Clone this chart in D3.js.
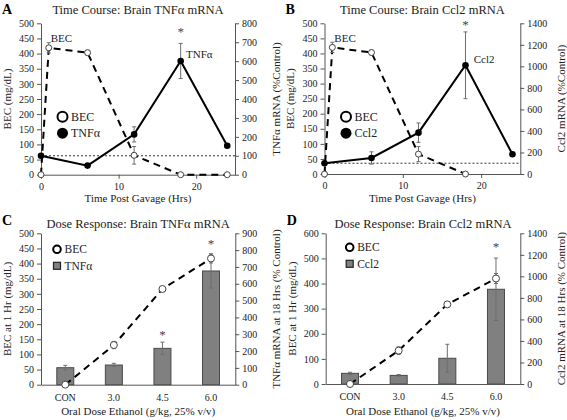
<!DOCTYPE html>
<html><head><meta charset="utf-8">
<script src="https://cdn.jsdelivr.net/npm/d3@7"></script>
<style>
html,body{margin:0;padding:0;background:#fff;}
svg{display:block;}
svg text{font-family:"Liberation Serif","Times New Roman",serif !important;}
</style></head><body>
<svg id="c" width="567" height="420"></svg>
<script>
// ---- data ----
const timeHrs = [0, 1, 6, 12, 18, 24];
const becTimeA = [0, 419, 403, 64, 0, 0];
const becTimeAErr = [0, 17, 8, 29, 0, 0];
const tnfTimeHrs = [0, 6, 12, 18, 24];
const tnfTime = [100, 48, 213, 601, 153];
const tnfTimeErr = [0, 0, 40, 93, 0];

const becTimeHrsB = [0, 1, 6, 12, 18];
const becTimeB = [0, 420, 403, 66, 0];
const becTimeBErr = [0, 17, 8, 25, 0];
const ccl2TimeHrs = [0, 6, 12, 18, 24];
const ccl2Time = [99, 149, 384, 1010, 183];
const ccl2TimeErr = [0, 57, 90, 310, 0];

const doses = ["CON", "3.0", "4.5", "6.0"];
const becDoseC = [0, 131, 316, 417];
const becDoseCErr = [0, 12, 5, 15];
const tnfDose = [101, 117, 216, 676];
const tnfDoseErr = [14, 10, 37, 101];

const becDoseD = [0, 133, 317, 420];
const becDoseDErr = [0, 15, 6, 20];
const ccl2Dose = [99, 80, 239, 880];
const ccl2DoseErr = [10, 8, 130, 290];

const ticksBEC500 = [0,50,100,150,200,250,300,350,400,450,500];
const ticksBEC600 = [0,100,200,300,400,500,600];
const ticksTnfTime = [0,100,200,300,400,500,600,700,800];
const ticksCcl2 = [0,200,400,600,800,1000,1200,1400];
const ticksTnfDose = [0,100,200,300,400,500,600,700,800,900];
const ticksTime = [0,10,20];

const svg = d3.select("#c");
const BLK = "#000", GRAY = "#6e6e6e", TXT = "#222";
const FONT = "Liberation Serif, Times New Roman, serif";

function axes(g, L, R, yl, yr, tl, tr) {
  g.append("g").attr("transform", `translate(${L},0)`)
    .call(d3.axisLeft(yl).tickValues(tl).tickSize(4).tickSizeOuter(0).tickPadding(3).tickFormat(d3.format("d")));
  g.append("g").attr("transform", `translate(${R},0)`)
    .call(d3.axisRight(yr).tickValues(tr).tickSize(4).tickSizeOuter(0).tickPadding(3).tickFormat(d3.format("d")));
}
function txt(g, x, y, s, o = {}) {
  const t = g.append("text").attr("x", x).attr("y", y).text(s)
    .attr("font-size", o.size || 11).attr("fill", o.fill || TXT).attr("font-family", FONT)
    .attr("text-anchor", o.anchor || "start");
  if (o.weight) t.attr("font-weight", o.weight);
  if (o.rot) t.attr("transform", `rotate(-90,${x},${y})`);
  return t;
}
function errBars(g, xs, ys, es, x, y) {
  xs.forEach((xv, i) => {
    if (!es[i]) return;
    const cx = x(xv);
    g.append("line").attr("x1", cx).attr("x2", cx).attr("y1", y(ys[i] - es[i])).attr("y2", y(ys[i] + es[i]))
      .attr("stroke", GRAY).attr("stroke-width", 1);
    [ys[i] - es[i], ys[i] + es[i]].forEach(v => g.append("line").attr("x1", cx - 2).attr("x2", cx + 2)
      .attr("y1", y(v)).attr("y2", y(v)).attr("stroke", GRAY).attr("stroke-width", 1));
  });
}

function timePanel(o) {
  const g = svg.append("g");
  const x = d3.scaleLinear().domain([0, 25]).range([o.L, o.R]);
  const yl = d3.scaleLinear().domain([0, 500]).range([o.B, o.T]);
  const yr = d3.scaleLinear().domain([0, o.rmax]).range([o.B, o.T]);
  g.append("g").attr("transform", `translate(0,${o.B})`)
    .call(d3.axisBottom(x).tickValues(ticksTime).tickSize(4).tickSizeOuter(0).tickPadding(4).tickFormat(d3.format("d")));
  axes(g, o.L, o.R, yl, yr, ticksBEC500, o.rticks);
  g.append("line").attr("x1", o.L).attr("x2", o.R).attr("y1", yr(100)).attr("y2", yr(100))
    .attr("stroke", "#333").attr("stroke-width", 1).attr("stroke-dasharray", "2,2");
  g.append("path").datum(o.becX.map((t, i) => [t, o.bec[i]]))
    .attr("d", d3.line().x(d => x(d[0])).y(d => yl(d[1])))
    .attr("fill", "none").attr("stroke", BLK).attr("stroke-width", 2).attr("stroke-dasharray", "7,5");
  g.append("path").datum(o.mX.map((t, i) => [t, o.m[i]]))
    .attr("d", d3.line().x(d => x(d[0])).y(d => yr(d[1])))
    .attr("fill", "none").attr("stroke", BLK).attr("stroke-width", 2);
  errBars(g, o.becX, o.bec, o.becE, x, yl);
  errBars(g, o.mX, o.m, o.mE, x, yr);
  o.becX.forEach((t, i) => g.append("circle").attr("cx", x(t)).attr("cy", yl(o.bec[i])).attr("r", 3)
    .attr("fill", "#fff").attr("stroke", "#444").attr("stroke-width", 1));
  o.mX.forEach((t, i) => g.append("circle").attr("cx", x(t)).attr("cy", yr(o.m[i])).attr("r", 3.3)
    .attr("fill", "#000"));
  txt(g, (o.L + o.R) / 2, 14, o.title, { size: 12.5, anchor: "middle" });
  txt(g, o.L - 39, 13.5, o.letter, { size: 14, weight: "bold", fill: "#000" });
  txt(g, (o.L + o.R) / 2, 201.5, "Time Post Gavage (Hrs)", { size: 11, anchor: "middle" });
  txt(g, o.L - 30, (o.T + o.B) / 2, "BEC (mg/dL)", { anchor: "middle", rot: true });
  txt(g, o.R + 45, (o.T + o.B) / 2, o.rlabel, { anchor: "middle", rot: true });
  txt(g, x(1) + 2, 41.5, "BEC", {});
  txt(g, o.mLabX, o.mLabY, o.mName, {});
  txt(g, x(18), o.starY, "*", { anchor: "middle", size: 13, fill: "#444" });
  g.append("circle").attr("cx", o.L + 21.5).attr("cy", 116.7).attr("r", 5).attr("fill", "#fff").attr("stroke", "#000").attr("stroke-width", 2);
  g.append("circle").attr("cx", o.L + 21.5).attr("cy", 133.2).attr("r", 5.5).attr("fill", "#000");
  txt(g, o.L + 30, 120.7, "BEC", { size: 12 });
  txt(g, o.L + 30, 137.2, o.mName, { size: 12 });
}

function dosePanel(o) {
  const g = svg.append("g");
  const x = d3.scaleBand().domain(doses).range([o.L, o.R]).paddingInner(0.65).paddingOuter(0.325);
  const yl = d3.scaleLinear().domain([0, o.lmax]).range([o.B, o.T]);
  const yr = d3.scaleLinear().domain([0, o.rmax]).range([o.B, o.T]);
  const cx = d => x(d) + x.bandwidth() / 2;
  g.selectAll("rect.bar").data(doses).enter().append("rect")
    .attr("x", d => x(d)).attr("width", x.bandwidth())
    .attr("y", (d, i) => yr(o.m[i])).attr("height", (d, i) => o.B - yr(o.m[i]))
    .attr("fill", "#808080").attr("stroke", "#4a4a4a").attr("stroke-width", 1);
  g.append("g").attr("transform", `translate(0,${o.B})`)
    .call(d3.axisBottom(x).tickSize(0).tickSizeOuter(0).tickPadding(9));
  axes(g, o.L, o.R, yl, yr, o.lticks, o.rticks);
  errBars(g, doses, o.m, o.mE, cx, yr);
  g.append("path").datum(doses.map((d, i) => [d, o.bec[i]]))
    .attr("d", d3.line().x(d => cx(d[0])).y(d => yl(d[1])))
    .attr("fill", "none").attr("stroke", BLK).attr("stroke-width", 2).attr("stroke-dasharray", "7,5");
  errBars(g, doses, o.bec, o.becE, cx, yl);
  doses.forEach((d, i) => g.append("circle").attr("cx", cx(d)).attr("cy", yl(o.bec[i])).attr("r", 3.5)
    .attr("fill", "#fff").attr("stroke", "#444").attr("stroke-width", 1));
  o.stars.forEach(s => txt(g, cx(s[0]), s[1], "*", { anchor: "middle", size: 13, fill: "#444" }));
  txt(g, (o.L + o.R) / 2, 227.5, o.title, { size: 12.5, anchor: "middle" });
  txt(g, o.L - 39, 225, o.letter, { size: 14, weight: "bold", fill: "#000" });
  txt(g, (o.L + o.R) / 2, 415, "Oral Dose Ethanol (g/kg, 25% v/v)", { size: 11, anchor: "middle" });
  txt(g, o.L - 30, (o.T + o.B) / 2, "BEC at 1 Hr (mg/dL)", { anchor: "middle", rot: true });
  txt(g, o.R + 45, (o.T + o.B) / 2, o.rlabel, { anchor: "middle", rot: true });
  g.append("circle").attr("cx", o.legX).attr("cy", o.legY).attr("r", 3.8).attr("fill", "#fff").attr("stroke", "#000").attr("stroke-width", 2);
  g.append("rect").attr("x", o.legX - 3.5).attr("y", o.legY + 13).attr("width", 7).attr("height", 7)
    .attr("fill", "#808080").attr("stroke", "#222").attr("stroke-width", 1.2);
  txt(g, o.legX + 7.5, o.legY + 4, "BEC", { size: 11.5 });
  txt(g, o.legX + 7.5, o.legY + 20.5, o.mName, { size: 11.5 });
}

timePanel({ L: 41, R: 235, T: 23.3, B: 174.7, rmax: 800, rticks: ticksTnfTime, title: "Time Course: Brain TNFα mRNA",
  letter: "A", rlabel: "TNFα mRNA (%Control)", becX: timeHrs, bec: becTimeA, becE: becTimeAErr,
  mX: tnfTimeHrs, m: tnfTime, mE: tnfTimeErr, mName: "TNFα", mLabX: 186, mLabY: 57.5, starY: 36 });
timePanel({ L: 324.5, R: 520.3, T: 23.3, B: 174, rmax: 1400, rticks: ticksCcl2, title: "Time Course: Brain Ccl2 mRNA",
  letter: "B", rlabel: "Ccl2 mRNA (%Control)", becX: becTimeHrsB, bec: becTimeB, becE: becTimeBErr,
  mX: ccl2TimeHrs, m: ccl2Time, mE: ccl2TimeErr, mName: "Ccl2", mLabX: 473.7, mLabY: 63, starY: 29 });
dosePanel({ L: 41, R: 235.3, T: 233.3, B: 384.7, lmax: 500, rmax: 900, lticks: ticksBEC500, rticks: ticksTnfDose,
  title: "Dose Response: Brain TNFα mRNA", letter: "C", rlabel: "TNFα mRNA at 18 Hrs (% Control)",
  bec: becDoseC, becE: becDoseCErr, m: tnfDose, mE: tnfDoseErr, mName: "TNFα", legX: 57, legY: 249.3,
  stars: [["4.5", 338.5], ["6.0", 247.5]] });
dosePanel({ L: 325.7, R: 520.3, T: 233.3, B: 384, lmax: 600, rmax: 1400, lticks: ticksBEC600, rticks: ticksCcl2,
  title: "Dose Response: Brain Ccl2 mRNA", letter: "D", rlabel: "Ccl2 mRNA at 18 Hrs (% Control)",
  bec: becDoseD, becE: becDoseDErr, m: ccl2Dose, mE: ccl2DoseErr, mName: "Ccl2", legX: 349.7, legY: 247.3,
  stars: [["6.0", 250.5]] });
svg.selectAll(".tick text").attr("font-size", 10).attr("font-family", FONT).attr("fill", TXT);
svg.selectAll(".domain, .tick line").attr("stroke", "#555");
</script></body></html>
